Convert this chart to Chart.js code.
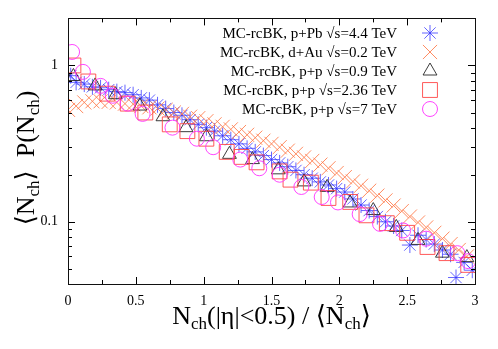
<!DOCTYPE html>
<html>
<head>
<meta charset="utf-8">
<script src="https://cdn.jsdelivr.net/npm/chart.js@4.4.1/dist/chart.umd.min.js"></script>
<style>
html,body{margin:0;padding:0;background:#fff;}
canvas{display:block;}
</style>
</head>
<body>
<canvas id="c" width="498" height="349"></canvas>
<script>
// ---- data ----
const seriesLabels = [
  "MC-rcBK, p+Pb \u221As=4.4 TeV",
  "MC-rcBK, d+Au \u221As=0.2 TeV",
  "MC-rcBK, p+p \u221As=0.9 TeV",
  "MC-rcBK, p+p \u221As=2.36 TeV",
  "MC-rcBK, p+p \u221As=7 TeV"
];
const xPPb = [0.02,0.06,0.12,0.18,0.24,0.3,0.36,0.42,0.48,0.54,0.6,0.66,0.72,0.78,0.84,0.9,0.96,1.02,1.08,1.14,1.2,1.26,1.32,1.38,1.44,1.5,1.56,1.62,1.68,1.74,1.8,1.86,1.92,1.98,2.04,2.1,2.16,2.22,2.28,2.34,2.4,2.46,2.52,2.58,2.64,2.7,2.76,2.82,2.86,2.92,2.98];
const yPPb = [0.86,0.78,0.76,0.73,0.72,0.70,0.68,0.67,0.65,0.62,0.60,0.56,0.53,0.50,0.48,0.45,0.42,0.40,0.38,0.355,0.335,0.315,0.295,0.28,0.265,0.25,0.238,0.225,0.213,0.20,0.19,0.18,0.172,0.163,0.155,0.14,0.128,0.118,0.108,0.10,0.094,0.088,0.071,0.082,0.077,0.072,0.066,0.062,0.044,0.055,0.049];
const xDAu = [0.0,0.06,0.12,0.18,0.24,0.3,0.36,0.42,0.48,0.54,0.6,0.66,0.72,0.78,0.84,0.9,0.96,1.02,1.08,1.14,1.2,1.26,1.32,1.38,1.44,1.5,1.56,1.62,1.68,1.74,1.8,1.86,1.92,1.98,2.04,2.1,2.16,2.22,2.28,2.34,2.4,2.46,2.52,2.58,2.64,2.7,2.76,2.82,2.88,2.94];
const yDAu = [0.52,0.55,0.58,0.59,0.59,0.585,0.58,0.57,0.565,0.55,0.54,0.53,0.52,0.50,0.49,0.47,0.46,0.44,0.42,0.405,0.39,0.375,0.36,0.345,0.33,0.315,0.30,0.285,0.272,0.258,0.245,0.232,0.22,0.205,0.193,0.181,0.17,0.158,0.147,0.137,0.127,0.117,0.108,0.099,0.092,0.085,0.078,0.072,0.066,0.06];
const xPP09 = [0.04,0.2,0.35,0.53,0.7,0.87,1.02,1.19,1.36,1.55,1.74,1.91,2.08,2.25,2.42,2.58,2.76,2.94];
const yPP09 = [0.85,0.74,0.65,0.55,0.47,0.40,0.35,0.27,0.25,0.215,0.18,0.166,0.132,0.118,0.092,0.076,0.063,0.059];
const xPP236 = [0.04,0.15,0.29,0.44,0.57,0.75,0.88,1.02,1.17,1.28,1.39,1.56,1.64,1.79,1.92,2.08,2.2,2.35,2.5,2.65,2.79,2.95];
const yPP236 = [1.0,0.79,0.66,0.57,0.50,0.42,0.38,0.34,0.28,0.26,0.24,0.21,0.186,0.178,0.142,0.134,0.11,0.098,0.085,0.069,0.063,0.053];
const xPP7 = [0.03,0.11,0.24,0.33,0.44,0.55,0.77,0.95,1.07,1.27,1.41,1.56,1.72,1.87,1.99,2.15,2.3,2.47,2.64,2.87,2.95];
const yPP7 = [1.22,0.91,0.74,0.64,0.57,0.49,0.40,0.34,0.30,0.25,0.22,0.20,0.167,0.144,0.133,0.112,0.097,0.088,0.078,0.063,0.056];
const xTickValues = [0,0.5,1,1.5,2,2.5,3];
const yTickValues = [0.1,1];
// ---------------------------------------

const pts = (xs, ys) => xs.map((x, i) => ({x: x, y: ys[i]}));
const SERIF = "'Liberation Serif', 'DejaVu Serif', serif";

const styles = [
  {pointStyle:'star', color:'rgba(50,50,255,0.75)', radius:8},
  {pointStyle:'crossRot', color:'rgba(255,120,70,0.85)', radius:10},
  {pointStyle:'triangle', color:'rgba(40,40,40,0.9)', radius:8},
  {pointStyle:'rect', color:'rgba(255,60,60,0.85)', radius:10.5},
  {pointStyle:'circle', color:'rgba(255,50,255,0.9)', radius:7.5}
];
const allData = [pts(xPPb,yPPb), pts(xDAu,yDAu), pts(xPP09,yPP09), pts(xPP236,yPP236), pts(xPP7,yPP7)];

const datasets = allData.map((d, i) => ({
  label: seriesLabels[i],
  data: d,
  showLine: false,
  pointStyle: styles[i].pointStyle,
  pointRadius: styles[i].radius,
  pointBorderColor: styles[i].color,
  pointBackgroundColor: 'rgba(0,0,0,0)',
  pointBorderWidth: 1,
  order: 4 - i
}));

const decor = {
  id: 'decor',
  afterDatasetsDraw(chart) {
    const ctx = chart.ctx, a = chart.chartArea;
    const xs = chart.scales.x, ys = chart.scales.y;
    ctx.save();
    ctx.strokeStyle = '#000';
    ctx.lineWidth = 1;
    // inward ticks
    const xMinor = [0.25,0.75,1.25,1.75,2.25,2.75];
    const yMinor = [0.04,0.05,0.06,0.07,0.08,0.09,0.2,0.3,0.4,0.5,0.6,0.7,0.8,0.9,2];
    ctx.beginPath();
    const tx = (v, L) => { const p = Math.round(xs.getPixelForValue(v)) + 0.5;
      ctx.moveTo(p, a.bottom); ctx.lineTo(p, a.bottom - L);
      ctx.moveTo(p, a.top); ctx.lineTo(p, a.top + L); };
    const ty = (v, L) => { const p = Math.round(ys.getPixelForValue(v)) + 0.5;
      ctx.moveTo(a.left, p); ctx.lineTo(a.left + L, p);
      ctx.moveTo(a.right, p); ctx.lineTo(a.right - L, p); };
    xTickValues.forEach(v => tx(v, 7));
    xMinor.forEach(v => tx(v, 4));
    yTickValues.forEach(v => ty(v, 7));
    yMinor.forEach(v => ty(v, 4));
    ctx.stroke();
    // frame
    ctx.strokeStyle = '#111';
    ctx.strokeRect(Math.round(a.left)+0.5, Math.round(a.top)+0.5, Math.round(a.right-a.left), Math.round(a.bottom-a.top));

    // legend
    ctx.font = '15px ' + SERIF;
    ctx.fillStyle = '#000';
    ctx.textAlign = 'right';
    ctx.textBaseline = 'middle';
    seriesLabels.forEach((lab, i) => {
      const yy = 33 + i * 19;
      ctx.fillText(lab, 397, yy + 1);
      ctx.lineWidth = 1;
      ctx.strokeStyle = styles[i].color;
      ctx.fillStyle = 'rgba(0,0,0,0)';
      Chart.helpers.drawPoint(ctx, {pointStyle: styles[i].pointStyle, radius: styles[i].radius, rotation: 0, borderWidth: 1}, 430, yy);
      ctx.fillStyle = '#000';
    });

    // axis titles with subscripts
    const drawRich = (parts, big, small, sub) => {
      let w = 0;
      parts.forEach(p => { ctx.font = (p.s ? small : big) + 'px ' + SERIF; w += ctx.measureText(p.t).width; });
      let x = -w / 2;
      ctx.textAlign = 'left';
      ctx.textBaseline = 'alphabetic';
      parts.forEach(p => { ctx.font = (p.s ? small : big) + 'px ' + SERIF;
        ctx.fillText(p.t, x, p.s ? sub : 0); x += ctx.measureText(p.t).width; });
    };
    ctx.fillStyle = '#000';
    ctx.save();
    ctx.translate((a.left + a.right) / 2, 324);
    drawRich([{t:'N'},{t:'ch',s:1},{t:'(|\u03B7|<0.5) / \u27E8N'},{t:'ch',s:1},{t:'\u27E9'}], 26, 17, 5);
    ctx.restore();
    ctx.save();
    ctx.translate(34, 158);
    ctx.rotate(-Math.PI / 2);
    drawRich([{t:'\u27E8N'},{t:'ch',s:1},{t:'\u27E9  P(N'},{t:'ch',s:1},{t:')'}], 26, 17, 5);
    ctx.restore();
    ctx.restore();
  }
};

new Chart(document.getElementById('c'), {
  type: 'scatter',
  data: { datasets: datasets },
  options: {
    responsive: false,
    animation: false,
    devicePixelRatio: 1,
    layout: { padding: { top: 17, right: 23, left: 0, bottom: 0 } },
    plugins: { legend: { display: false }, tooltip: { enabled: false } },
    scales: {
      x: {
        type: 'linear', min: 0, max: 3,
        afterBuildTicks: s => { s.ticks = xTickValues.map(v => ({value: v})); },
        afterFit: s => { s.height = 65; },
        grid: { display: false, drawTicks: false },
        border: { display: false },
        ticks: { padding: 9, color: '#000', font: { family: SERIF, size: 14 }, callback: v => String(v), maxRotation: 0 }
      },
      y: {
        type: 'logarithmic', min: 0.04, max: 2,
        afterBuildTicks: s => { s.ticks = yTickValues.map(v => ({value: v})); },
        afterFit: s => { s.width = 68; },
        grid: { display: false, drawTicks: false },
        border: { display: false },
        ticks: { padding: 10, color: '#000', font: { family: SERIF, size: 14 }, callback: v => String(v) }
      }
    }
  },
  plugins: [decor]
});
</script>
</body>
</html>
